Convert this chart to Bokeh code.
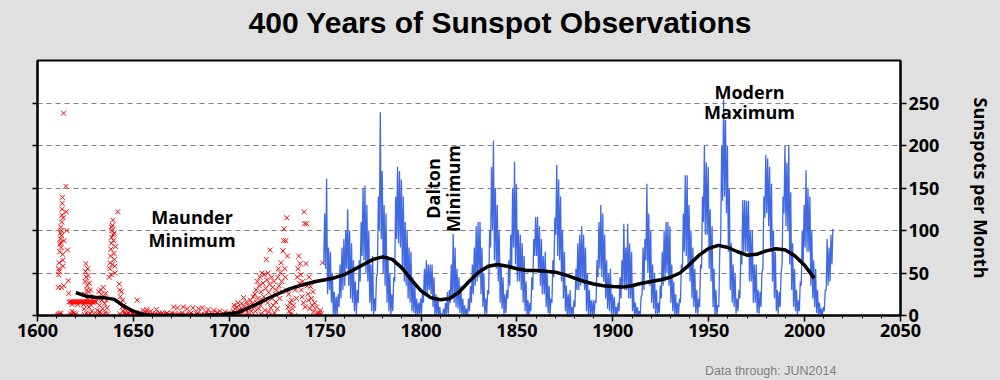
from bokeh.plotting import figure
from bokeh.layouts import column
from bokeh.models import (Range1d, LinearAxis, SingleIntervalTicker, FixedTicker,
                          Label, ColumnDataSource, Div)
from bokeh.embed import file_html
from bokeh.resources import INLINE

TITLE = "400 Years of Sunspot Observations"
Y_LABEL = "Sunspots per Month"
FOOTNOTE = "Data through: JUN2014"
ANNOT_MAUNDER = ["Maunder", "Minimum"]
ANNOT_DALTON = ["Dalton", "Minimum"]
ANNOT_MODERN = ["Modern", "Maximum"]

Y_TICKS = [0, 50, 100, 150, 200, 250]

# Monthly record 1749-2014: per year, highest and lowest monthly value
monthly_years = list(range(1749, 2015))
monthly_high = [
    120, 161, 80, 75, 50, 28, 22, 25, 60, 80,      # 1749-1758
    90, 100, 125, 100, 85, 65, 40, 30, 65, 110,    # 1759-1768
    150, 153, 130, 100, 60, 70, 20, 45, 140, 239,  # 1769-1778
    170, 130, 120, 70, 50, 25, 45, 140, 175, 170,  # 1779-1788
    160, 140, 110, 100, 80, 75, 45, 35, 20, 15,    # 1789-1798
    20, 30, 55, 65, 60, 60, 60, 45, 25, 22,        # 1799-1808
    10, 2, 8, 15, 28, 30, 60, 96, 80, 55,          # 1809-1818
    45, 35, 20, 12, 8, 20, 35, 60, 80, 105,        # 1819-1828
    110, 110, 80, 50, 20, 30, 100, 175, 206, 150,  # 1829-1838
    130, 100, 60, 45, 25, 30, 65, 95, 150, 181,    # 1839-1848
    155, 100, 95, 85, 70, 40, 18, 15, 45, 90,      # 1849-1858
    116, 116, 105, 90, 70, 75, 50, 35, 20, 65,     # 1859-1868
    115, 177, 160, 140, 100, 75, 35, 25, 30, 10,   # 1869-1878
    18, 55, 85, 95, 105, 95, 80, 50, 30, 18,       # 1879-1888
    18, 18, 65, 110, 130, 120, 95, 65, 50, 55,     # 1889-1898
    25, 22, 10, 15, 45, 65, 108, 80, 108, 85,      # 1899-1908
    75, 35, 15, 10, 5, 22, 80, 90, 155, 120,       # 1909-1918
    100, 60, 50, 30, 15, 35, 75, 100, 110, 110,    # 1919-1928
    105, 60, 40, 25, 15, 20, 60, 120, 165, 165,    # 1929-1938
    130, 100, 80, 55, 30, 20, 60, 140, 200, 180,   # 1939-1948
    175, 125, 105, 55, 30, 12, 75, 200, 254, 230,  # 1949-1958
    200, 150, 85, 60, 50, 20, 30, 75, 136, 136,    # 1959-1968
    135, 135, 100, 100, 60, 60, 30, 28, 50, 140,   # 1969-1978
    189, 185, 175, 155, 100, 75, 30, 28, 50, 140,  # 1979-1988
    200, 180, 200, 145, 85, 55, 30, 18, 40, 100,   # 1989-1998
    130, 171, 150, 140, 100, 65, 55, 30, 15, 8,    # 1999-2008
    10, 30, 90, 80, 95, 102,                       # 2009-2014
]
monthly_low = [
    60, 55, 25, 30, 15, 0, 0, 0, 10, 20,
    30, 35, 55, 35, 20, 15, 5, 0, 15, 40,
    70, 65, 50, 40, 15, 5, 0, 5, 50, 100,
    90, 50, 35, 15, 5, 0, 5, 40, 90, 85,
    80, 55, 40, 35, 20, 15, 5, 3, 0, 0,
    0, 2, 15, 25, 25, 30, 25, 10, 0, 0,
    0, 0, 0, 0, 0, 2, 15, 20, 15, 10,
    8, 3, 0, 0, 0, 0, 5, 15, 25, 35,
    40, 45, 25, 10, 0, 2, 25, 80, 100, 65,
    55, 40, 15, 8, 0, 3, 20, 35, 55, 80,
    60, 40, 40, 30, 15, 5, 0, 0, 5, 30,
    70, 70, 50, 35, 25, 25, 10, 3, 0, 15,
    45, 95, 70, 65, 40, 20, 5, 0, 0, 0,
    0, 10, 30, 30, 35, 40, 30, 5, 0, 0,
    0, 0, 15, 45, 55, 45, 40, 20, 8, 5,
    2, 0, 0, 0, 5, 20, 35, 30, 30, 20,
    20, 5, 0, 0, 0, 0, 25, 30, 65, 50,
    35, 15, 8, 2, 0, 3, 20, 35, 40, 50,
    35, 15, 5, 0, 0, 0, 15, 50, 75, 70,
    55, 40, 20, 10, 3, 0, 10, 55, 110, 95,
    95, 55, 40, 10, 0, 0, 10, 90, 135, 140,
    120, 75, 30, 15, 10, 2, 5, 20, 60, 75,
    75, 75, 40, 40, 15, 15, 3, 2, 10, 55,
    115, 120, 105, 80, 40, 20, 5, 2, 10, 60,
    120, 105, 100, 60, 30, 10, 5, 0, 5, 35,
    60, 80, 75, 75, 35, 20, 10, 3, 0, 0,
    0, 5, 30, 35, 40, 60,
]

# Smoothed trend (black curve), read every 5 years
smooth_years = list(range(1620, 2006, 5))
smooth_values = [
    27, 23, 21.5, 21, 19, 11, 5, 1.5, 0, 0, 0, 0, 0, 0, 0.5, 1, 2,   # 1620-1700
    4, 9, 14, 20, 25, 30, 34, 37, 40, 42, 44.5, 48, 54, 60, 66, 69, 66, 56, 42, 29,  # 1705-1800
    21, 18.5, 20, 28, 40, 51, 58, 60, 58, 55, 53, 53, 52, 51, 48, 44, 40, 37, 35, 34,  # 1805-1900
    33.4, 35, 38, 40, 42, 45, 50, 60, 71, 79, 82.5, 80, 75, 71, 72, 76, 78.6, 77, 70, 59, 44,  # 1905-2005
]

# Early (pre-1749) observations, red crosses: (year, sunspots)
early_obs = [
    (1610.6, 0), (1610.9, 1), (1611.2, 0), (1611.5, 2), (1611.8, 0), (1612.1, 3),
    (1610.8, 33), (1611.0, 48), (1611.1, 55), (1611.3, 62), (1611.4, 52), (1611.6, 75),
    (1611.7, 84), (1611.9, 90), (1612.0, 97), (1612.1, 104), (1612.2, 86), (1612.3, 80),
    (1612.4, 100), (1612.5, 94), (1612.6, 110), (1612.7, 118), (1612.8, 125), (1612.9, 132),
    (1613.0, 139), (1613.1, 72), (1613.2, 65), (1613.3, 58), (1613.4, 115), (1613.6, 238),
    (1613.7, 35), (1613.8, 88), (1612.5, 33),
    (1614.8, 152), (1615.0, 122), (1615.3, 100), (1615.6, 77), (1616.0, 41), (1616.3, 26),
    (1617.0, 0), (1617.5, 2), (1618.0, 5), (1618.5, 0), (1619.0, 3), (1619.5, 0), (1620.0, 2),
    (1616.5, 16), (1617.2, 16), (1617.9, 16), (1618.6, 16), (1619.3, 16), (1620.0, 16),
    (1620.7, 16), (1621.4, 16), (1622.1, 16), (1622.8, 16), (1623.5, 16), (1624.2, 16),
    (1624.9, 16), (1625.6, 16), (1626.3, 16), (1627.0, 16), (1627.7, 16), (1628.4, 16),
    (1629.1, 16), (1629.8, 16), (1630.5, 16), (1618.0, 13), (1621.0, 13), (1624.0, 13),
    (1624.3, 8), (1624.5, 25), (1624.8, 40), (1625.0, 52), (1625.2, 61), (1625.4, 45),
    (1625.6, 30), (1625.8, 20), (1626.0, 35), (1626.2, 55), (1626.4, 47), (1626.6, 28),
    (1626.8, 10), (1627.0, 38), (1627.3, 22), (1627.6, 30), (1627.9, 12), (1628.2, 5),
    (1624.6, 1), (1625.5, 3), (1626.5, 0), (1627.5, 2), (1628.5, 0),
    (1630.8, 2), (1631.2, 6), (1631.6, 20), (1632.0, 28), (1632.3, 12), (1632.6, 4),
    (1633.0, 30), (1633.3, 25), (1633.6, 18), (1634.0, 8), (1634.3, 33), (1634.6, 22),
    (1635.0, 14), (1635.3, 3), (1635.6, 26), (1636.0, 18), (1636.3, 9), (1636.6, 2),
    (1633.5, 0), (1632.5, 1),
    (1637.5, 45), (1637.7, 55), (1637.9, 62), (1638.1, 70), (1638.3, 78), (1638.5, 85),
    (1638.7, 92), (1638.9, 100), (1639.1, 106), (1639.3, 112), (1639.5, 95), (1639.7, 88),
    (1639.9, 73), (1640.1, 66), (1640.3, 58), (1640.5, 50), (1640.7, 81), (1638.4, 48),
    (1639.0, 60), (1641.8, 122), (1640.0, 97), (1638.6, 104),
    (1642.6, 37), (1642.9, 30), (1643.2, 22), (1643.5, 15), (1643.8, 28), (1644.1, 10),
    (1644.4, 18), (1644.7, 5), (1645.0, 12), (1645.3, 3), (1645.6, 8), (1646.0, 1),
    (1643.0, 2), (1644.0, 0),
    (1646.5, 2), (1647.0, 0), (1647.5, 3), (1648.0, 0), (1648.5, 5), (1649.0, 0),
    (1649.5, 2), (1650.0, 0), (1650.5, 1), (1651.0, 0), (1651.5, 3), (1652.0, 18),
    (1652.5, 0), (1653.0, 2), (1653.5, 0), (1654.0, 1), (1654.5, 0), (1655.0, 6),
    (1655.5, 2), (1656.0, 0), (1656.5, 4), (1657.0, 7), (1657.5, 0), (1658.0, 3),
    (1658.5, 0), (1659.0, 5), (1659.5, 0), (1660.0, 2),
    (1661, 0), (1662, 7), (1663, 1), (1664, 0), (1665, 3), (1666, 0), (1667, 2), (1668, 0),
    (1669, 1), (1670, 3), (1671, 10), (1672, 0), (1673, 9), (1674, 2), (1675, 0), (1676, 10),
    (1677, 1), (1678, 8), (1679, 0), (1680, 3), (1681, 9), (1682, 0), (1683, 2), (1684, 8),
    (1685, 0), (1686, 9), (1687, 1), (1688, 3), (1689, 7), (1690, 0), (1691, 2), (1692, 6),
    (1693, 0), (1694, 3), (1695, 5), (1696, 0), (1697, 2), (1698, 4), (1699, 0),
    (1661.5, 2), (1663.5, 3), (1665.5, 1), (1667.5, 3), (1669.5, 0), (1671.5, 2),
    (1673.5, 0), (1675.5, 3), (1677.5, 0), (1679.5, 2), (1681.5, 0), (1683.5, 3),
    (1685.5, 1), (1687.5, 0), (1689.5, 2), (1691.5, 0), (1693.5, 3), (1695.5, 1),
    (1697.5, 0), (1699.5, 3),
    (1700, 0), (1701, 2), (1702, 5), (1702.5, 12), (1703, 8), (1703.5, 3), (1704, 10),
    (1704.5, 15), (1705, 6), (1705.5, 2), (1706, 9), (1706.5, 14), (1707, 4), (1707.5, 21),
    (1708, 11), (1708.5, 7), (1709, 16), (1709.5, 3), (1710, 12), (1710.5, 8), (1711, 18),
    (1711.5, 5), (1712, 14), (1712.5, 22), (1700.5, 1), (1701.5, 0), (1706, 1), (1710, 0),
    (1713, 10), (1713.3, 25), (1713.6, 5), (1714, 30), (1714.3, 15), (1714.6, 40),
    (1715, 20), (1715.3, 8), (1715.6, 35), (1716, 45), (1716.3, 12), (1716.6, 28),
    (1717, 50), (1717.3, 18), (1717.6, 38), (1718, 22), (1718.3, 48), (1718.6, 6),
    (1719, 32), (1719.3, 66), (1719.6, 42), (1720, 15), (1720.3, 50), (1720.6, 27),
    (1721, 37), (1721.3, 77), (1721.6, 9), (1722, 45), (1722.3, 20), (1722.6, 33),
    (1723, 12), (1723.3, 40), (1723.6, 3), (1724, 25), (1724.3, 16), (1724.6, 30),
    (1725, 8), (1725.3, 45), (1725.6, 55), (1726, 35), (1726.3, 20), (1726.6, 50),
    (1727, 62), (1727.3, 40), (1727.6, 28), (1728, 76), (1728.3, 88), (1728.6, 102),
    (1728.9, 55), (1729.2, 45), (1729.5, 88), (1729.8, 30), (1730, 115), (1730.3, 70),
    (1730.6, 10), (1731, 25), (1731.3, 5), (1731.6, 15), (1732, 2), (1732.5, 18),
    (1733, 8), (1733.5, 12), (1734, 0), (1734.5, 30), (1735, 20), (1735.4, 45),
    (1735.8, 55), (1736.2, 70), (1736.6, 38), (1737, 61), (1737.3, 48), (1737.6, 30),
    (1738, 22), (1738.3, 40), (1738.6, 15), (1739, 122), (1739.3, 108), (1739.6, 10),
    (1740, 61), (1740.3, 108), (1740.6, 35), (1741, 25), (1741.3, 18), (1741.6, 45),
    (1742, 8), (1742.4, 34), (1742.8, 20), (1743.2, 12), (1743.6, 28), (1744, 5),
    (1744.5, 15), (1745, 0), (1745.5, 10), (1746, 3), (1746.5, 0), (1747, 3),
    (1747.5, 6), (1748.6, 62), (1748, 2), (1716.5, 2), (1718.5, 0), (1720.5, 4), (1722.5, 1),
]

# ---- build sources ----
zig_x, zig_y = [], []
for yr, lo, hi in zip(monthly_years, monthly_low, monthly_high):
    zig_x += [yr + 0.25, yr + 0.75]
    zig_y += [lo, hi]
monthly_src = ColumnDataSource(dict(x=zig_x, y=zig_y))
early_src = ColumnDataSource(dict(x=[o[0] for o in early_obs], y=[o[1] for o in early_obs]))
smooth_src = ColumnDataSource(dict(x=smooth_years, y=smooth_values))

BG = "#e0e0e0"
FONT = "Open Sans"

p = figure(width=1000, height=293, x_range=Range1d(1600, 2050), y_range=Range1d(0, 300),
           y_axis_location="right", output_backend="svg", toolbar_location=None,
           background_fill_color="white", border_fill_color=BG,
           min_border_left=37, min_border_right=100, min_border_top=1, min_border_bottom=37)
p.outline_line_color = "black"
p.outline_line_width = 2

# axes
xa = p.xaxis[0]
xa.ticker = SingleIntervalTicker(interval=50, num_minor_ticks=5)
ya = p.yaxis[0]
ya.ticker = FixedTicker(ticks=Y_TICKS)
ya.axis_label = Y_LABEL
ya.axis_label_text_font = FONT
ya.axis_label_text_font_style = "bold"
ya.axis_label_text_font_size = "18px"
ya.axis_label_text_color = "black"
ya.axis_label_standoff = 27

left = LinearAxis(ticker=FixedTicker(ticks=Y_TICKS),
                  major_label_overrides={t: "" for t in Y_TICKS})
p.add_layout(left, "left")

for ax in (xa, ya, left):
    ax.axis_line_width = 2
    ax.axis_line_color = "black"
    ax.major_tick_line_width = 1.5
    ax.major_tick_line_color = "black"
    ax.major_tick_in = 0
    ax.major_tick_out = 6
    ax.minor_tick_in = 0
    ax.minor_tick_out = 0
    ax.major_label_text_font = FONT
    ax.major_label_text_font_style = "bold"
    ax.major_label_text_font_size = "18px"
    ax.major_label_text_color = "black"
    ax.major_label_standoff = 2
xa.minor_tick_out = 3
xa.minor_tick_line_width = 1
xa.minor_tick_line_color = "black"
left.major_tick_out = 5

p.xgrid.visible = False
p.ygrid.ticker = FixedTicker(ticks=[50, 100, 150, 200, 250])
p.ygrid.grid_line_color = "#808080"
p.ygrid.grid_line_dash = "5 4"
p.ygrid.grid_line_width = 1

# data
p.scatter("x", "y", source=early_src, marker="x", size=7, line_color="#ff0000", line_width=1)
p.line("x", "y", source=monthly_src, line_color="#4169e1", line_width=1.3)
p.line("x", "y", source=smooth_src, line_color="black", line_width=3.5)

def add_label(text, x, y, size="18px", angle=0.0):
    p.add_layout(Label(x=x, y=y, text=text, text_font=FONT, text_font_style="bold",
                       text_font_size=size, text_color="black", text_align="center",
                       text_baseline="middle", angle=angle))

add_label(ANNOT_MAUNDER[0], 1680.6, 115.3)
add_label(ANNOT_MAUNDER[1], 1680.6, 89.4)
add_label(ANNOT_DALTON[0], 1806.0, 149.4, angle=1.5708)
add_label(ANNOT_DALTON[1], 1816.5, 149.4, angle=1.5708)
add_label(ANNOT_MODERN[0], 1971.3, 263.0)
add_label(ANNOT_MODERN[1], 1971.3, 239.4)

# title and footnote as page text above / below the figure
title_div = Div(
    text=('<div style="width:1000px;padding-top:6px;text-align:center;'
          'font-family:\'Liberation Sans\';font-size:30px;font-weight:bold;'
          'line-height:normal;color:black;white-space:nowrap;">' + TITLE + '</div>'),
    width=1000, height=59, margin=0)
foot_div = Div(
    text=('<div style="width:900px;padding-top:12px;padding-left:705px;'
          'font-family:\'Liberation Sans\';font-size:12.5px;'
          'line-height:normal;color:#808080;white-space:nowrap;">' + FOOTNOTE + '</div>'),
    width=1000, height=28, margin=0)

layout = column(title_div, p, foot_div, spacing=0)

html = file_html(layout, INLINE)
html = html.replace("</head>", "<style>html,body{margin:0;background-color:#e0e0e0;}</style></head>", 1)
open("out.html", "w").write(html)
